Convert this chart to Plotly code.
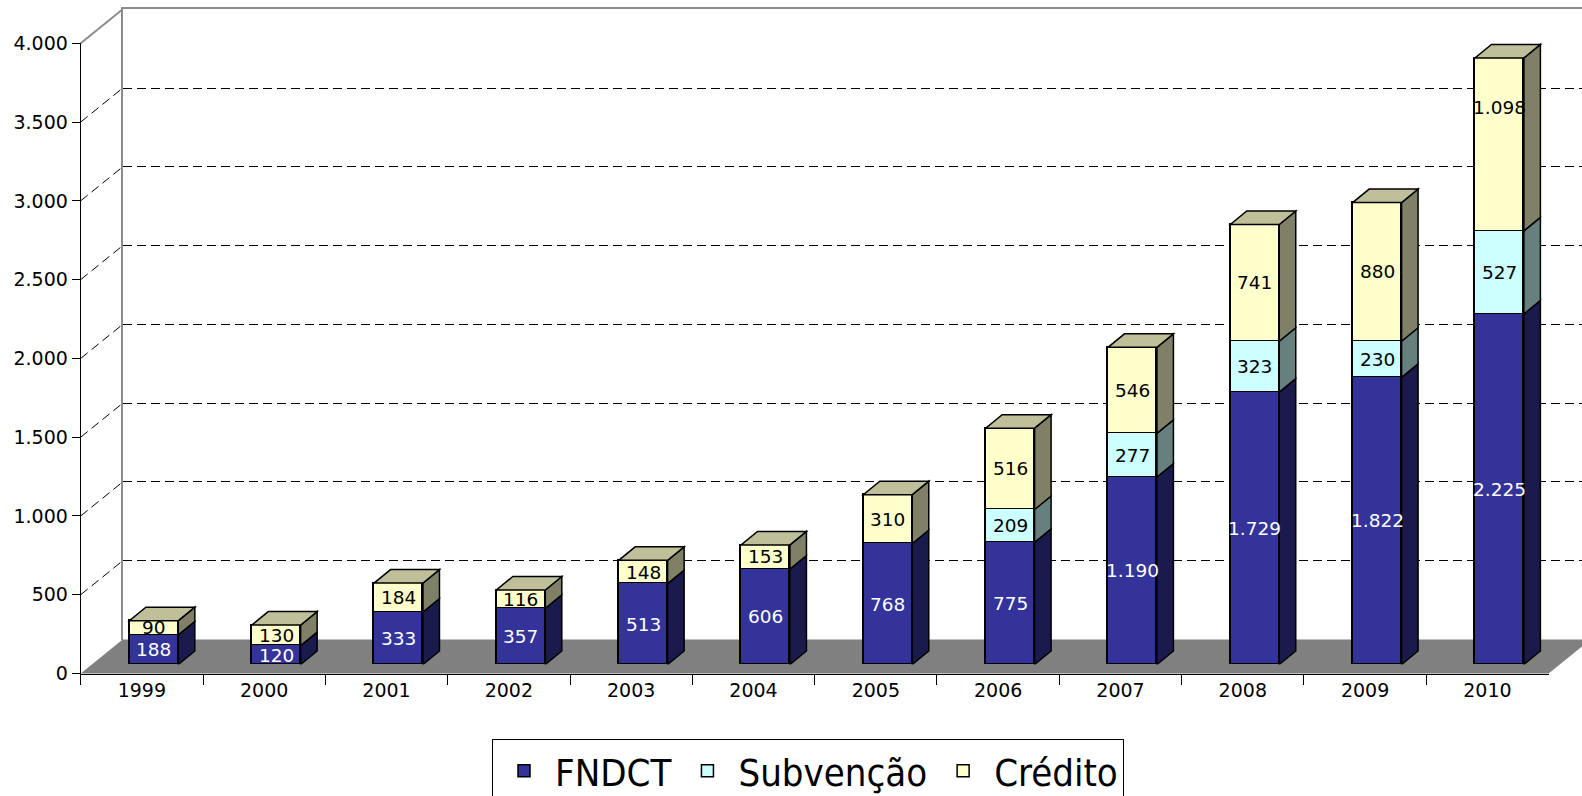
import plotly.graph_objects as go

# ---------------- data ----------------
years = ["1999", "2000", "2001", "2002", "2003", "2004",
         "2005", "2006", "2007", "2008", "2009", "2010"]
fndct = [188, 120, 333, 357, 513, 606, 768, 775, 1190, 1729, 1822, 2225]
subvencao = [0, 0, 0, 0, 0, 0, 0, 209, 277, 323, 230, 527]
credito = [90, 130, 184, 116, 148, 153, 310, 516, 546, 741, 880, 1098]
series_names = ["FNDCT", "Subvenção", "Crédito"]
y_ticks = [0, 500, 1000, 1500, 2000, 2500, 3000, 3500, 4000]

# ---------------- styling / geometry ----------------
W, H = 1582, 796
FX0, FX1 = 80.7, 1548.6          # front plane, horizontal extent (px)
FY_BOT, FY_TOP = 673.5, 43.3     # front plane, value 0 / value max (px)
WALL_DX, WALL_DY = 42.0, 34.0    # depth of the back wall
BAR_DX, BAR_DY = 12.0, 9.0       # bar front faces offset into depth
SIDE_DX, SIDE_DY = 16.5, 13.5    # bar depth
BAR_W = 0.40
YMAX = y_ticks[-1]
LABEL_YSHIFT = {(2, 11): 37}     # (series, category) -> label nudge in px

front_col = ["#333399", "#CCFFFF", "#FFFFCC"]
side_col = ["#1A1A4D", "#668080", "#808066"]
top_col = ["#26264D", "#99BFBF", "#BFBF99"]
txt_col = ["white", "black", "black"]
FONT = "DejaVu Sans"


def pxx(x):
    return x / W


def pxy(y):
    return 1 - y / H


n = len(years)
cat_px = (FX1 - FX0) / n
unit_px = (FY_BOT - FY_TOP) / YMAX
side_dx_u = SIDE_DX / cat_px
side_dy_u = SIDE_DY / unit_px
wall_dy_u = WALL_DY / unit_px

series = [fndct, subvencao, credito]

fig = go.Figure()
# carrier trace so that the front (labelled) category axis exists
fig.add_trace(go.Scatter(x=years, y=[None] * n, mode="lines", showlegend=False,
                         hoverinfo="skip", xaxis="x", yaxis="y"))
for k, (name, vals) in enumerate(zip(series_names, series)):
    fig.add_trace(go.Bar(
        x=years, y=[v if v else None for v in vals], name=name, width=BAR_W,
        marker=dict(color=front_col[k], line=dict(color="black", width=1.5)),
        xaxis="x3", yaxis="y3", hovertemplate=name + ": %{y}<extra></extra>",
    ))


def fmt(v):
    return f"{v:,}".replace(",", ".")


shapes = []
annotations = []

# floor
shapes.append(dict(
    type="path", xref="paper", yref="paper", layer="below",
    path=(f"M{pxx(FX0)},{pxy(FY_BOT)} L{pxx(FX1)},{pxy(FY_BOT)} "
          f"L{pxx(FX1 + WALL_DX)},{pxy(FY_BOT - WALL_DY)} "
          f"L{pxx(FX0 + WALL_DX)},{pxy(FY_BOT - WALL_DY)} Z"),
    fillcolor="#808080", line=dict(width=0)))

# side wall diagonals
for v in y_ticks[1:]:
    last = v == YMAX
    shapes.append(dict(
        type="line", xref="paper", yref="y2", layer="below",
        x0=pxx(FX0), x1=pxx(FX0 + WALL_DX), y0=v - wall_dy_u, y1=v,
        line=dict(color="#8C8C8C" if last else "black",
                  width=2 if last else 1,
                  dash="solid" if last else "9px,5px")))

# 3D faces of the bars + labels
for i in range(n):
    base = 0
    top_k = None
    for k, vals in enumerate(series):
        v = vals[i]
        if not v:
            continue
        b, t = base, base + v
        xr = i + BAR_W / 2
        shapes.append(dict(
            type="path", xref="x3", yref="y3", layer="above",
            path=(f"M{xr},{b} L{xr + side_dx_u},{b + side_dy_u} "
                  f"L{xr + side_dx_u},{t + side_dy_u} L{xr},{t} Z"),
            fillcolor=side_col[k], line=dict(color="black", width=1.5)))
        annotations.append(dict(
            x=i, y=(b + t) / 2, xref="x3", yref="y3", text=fmt(v),
            showarrow=False, xanchor="center", yanchor="middle",
            yshift=LABEL_YSHIFT.get((k, i), 0),
            font=dict(family=FONT, size=18.5, color=txt_col[k])))
        base = t
        top_k = k
    xl = i - BAR_W / 2
    xr = i + BAR_W / 2
    shapes.append(dict(
        type="path", xref="x3", yref="y3", layer="above",
        path=(f"M{xl},{base} L{xr},{base} L{xr + side_dx_u},{base + side_dy_u} "
              f"L{xl + side_dx_u},{base + side_dy_u} Z"),
        fillcolor=top_col[top_k], line=dict(color="black", width=1.5)))

fig.update_layout(
    width=W, height=H, autosize=False,
    margin=dict(l=0, r=0, t=0, b=0, autoexpand=False),
    paper_bgcolor="white", plot_bgcolor="rgba(0,0,0,0)",
    separators=",.",
    barmode="stack", bargap=0,
    showlegend=True,
    font=dict(family=FONT, color="black"),
    # front plane axes (labels)
    xaxis=dict(domain=[pxx(FX0), pxx(FX1)], anchor="y", type="category",
               categoryorder="array", categoryarray=years, range=[-0.5, n - 0.5],
               tickson="boundaries", ticks="outside", ticklen=10, tickcolor="black",
               showgrid=False, zeroline=False, showline=True, linecolor="black",
               linewidth=1, tickfont=dict(family=FONT, size=19, color="black"),
               fixedrange=True),
    yaxis=dict(domain=[pxy(FY_BOT), pxy(FY_TOP)], anchor="x", range=[0, YMAX],
               tickvals=y_ticks, tickformat=",d", ticks="outside", ticklen=8,
               tickcolor="black", showgrid=False, zeroline=False, showline=True,
               linecolor="black", linewidth=1,
               tickfont=dict(family=FONT, size=19, color="black"), fixedrange=True),
    # back wall
    xaxis2=dict(domain=[pxx(FX0 + WALL_DX), 1], anchor="y2", range=[0, 1],
                side="top", showline=True, linecolor="#8C8C8C", linewidth=2,
                showgrid=False, zeroline=False, showticklabels=False, ticks="",
                fixedrange=True),
    yaxis2=dict(domain=[pxy(FY_BOT - WALL_DY), pxy(FY_TOP - WALL_DY)], anchor="x2",
                range=[0, YMAX], tickvals=y_ticks[1:-1], showgrid=True,
                gridcolor="black", gridwidth=1, griddash="9px,5px",
                showline=True, linecolor="#8C8C8C", linewidth=2, zeroline=False,
                showticklabels=False, ticks="", fixedrange=True),
    # bar plane
    xaxis3=dict(domain=[pxx(FX0 + BAR_DX), pxx(FX1 + BAR_DX)], anchor="y3",
                type="category", categoryorder="array", categoryarray=years,
                range=[-0.5, n - 0.5], visible=False, fixedrange=True),
    yaxis3=dict(domain=[pxy(FY_BOT - BAR_DY), pxy(FY_TOP - BAR_DY)], anchor="x3",
                range=[0, YMAX], visible=False, fixedrange=True),
    shapes=shapes,
    annotations=annotations,
    legend=dict(orientation="h", x=pxx(492), y=pxy(738.5), xanchor="left",
                yanchor="top", bgcolor="white", bordercolor="black", borderwidth=1,
                itemwidth=52,
                font=dict(family="DejaVu Sans Condensed", size=38, color="black"),
                traceorder="normal"),
)

fig.write_html("out.html", config={"displayModeBar": False},
               post_script="document.body.style.margin='0px';"
                           "document.body.style.overflow='hidden';")
